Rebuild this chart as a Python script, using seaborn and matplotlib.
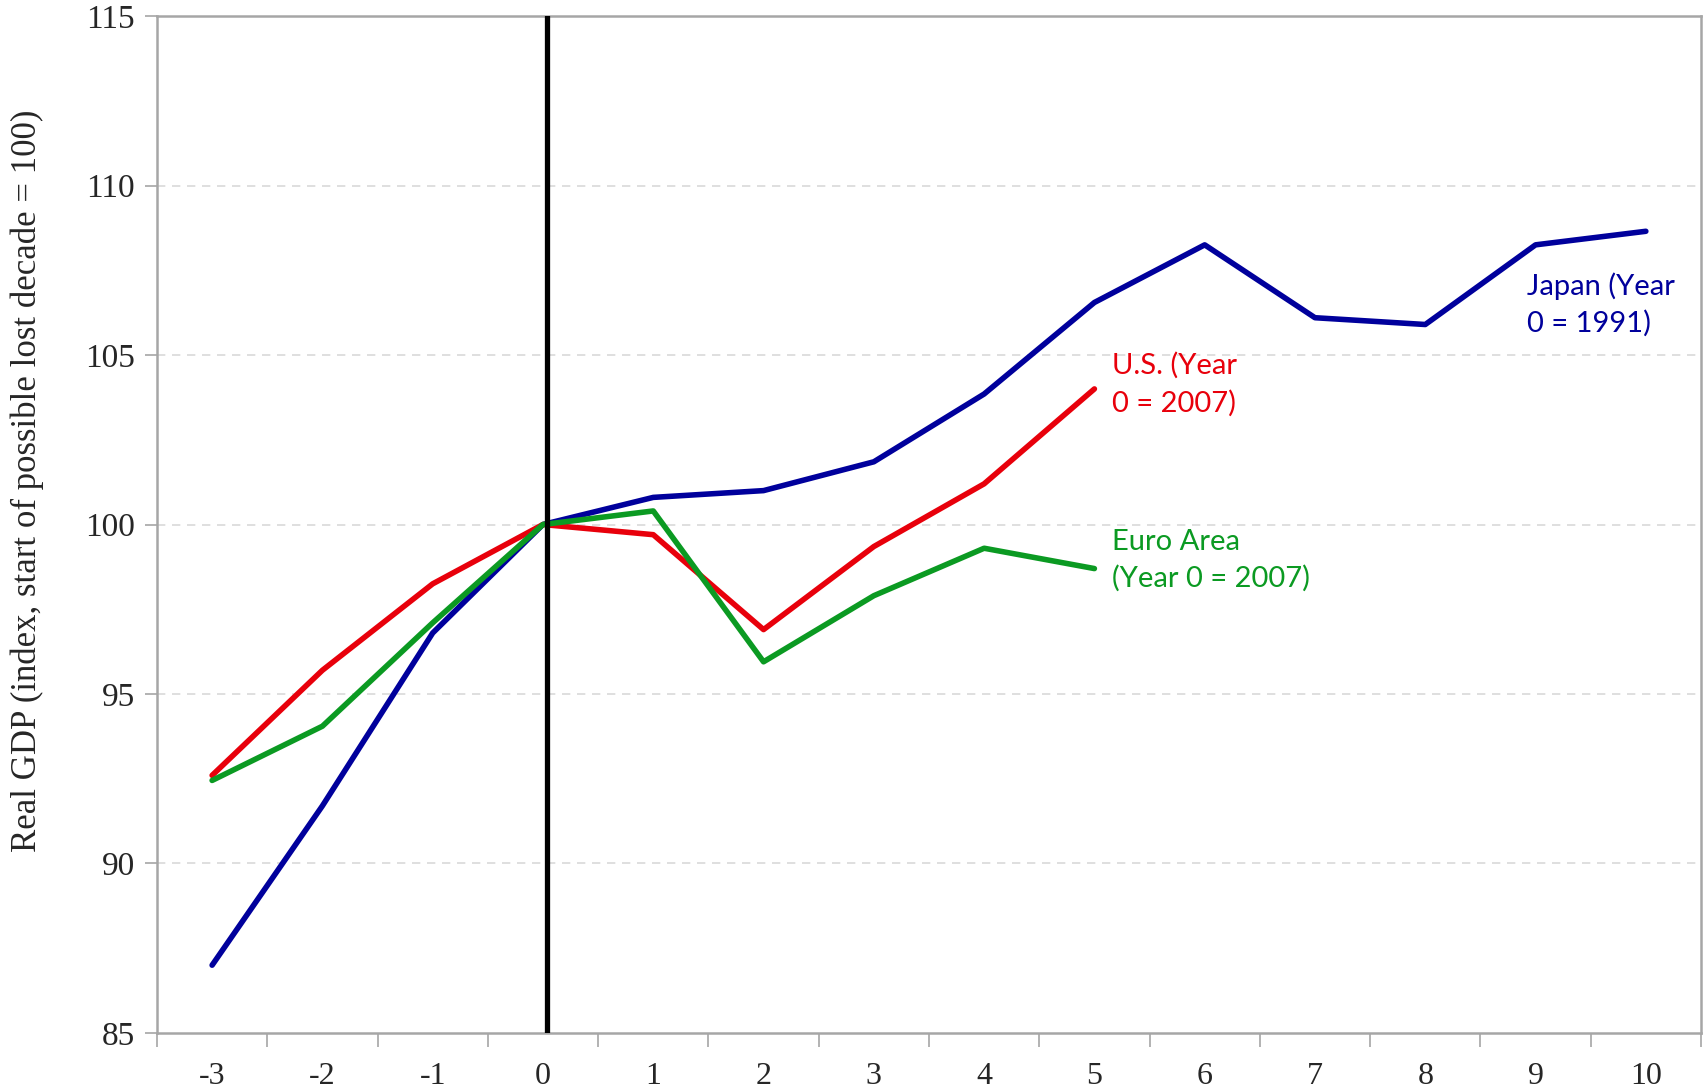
import matplotlib
matplotlib.use("Agg")
import matplotlib.pyplot as plt
import seaborn as sns
import pandas as pd
import numpy as np

# Years relative to the start of each possible lost decade
years = [-3, -2, -1, 0, 1, 2, 3, 4, 5, 6, 7, 8, 9, 10]

japan = [87.0, 91.7, 96.8, 100.0, 100.8, 101.0, 101.85, 103.85, 106.55,
         108.25, 106.1, 105.9, 108.25, 108.65]
us = [92.6, 95.7, 98.25, 100.0, 99.7, 96.9, 99.35, 101.2, 104.0]
euro = [92.45, 94.05, 97.1, 100.0, 100.4, 95.95, 97.9, 99.3, 98.7]

series_names = ["Japan", "U.S.", "Euro Area"]
series_labels = ["Japan (Year\n0 = 1991)", "U.S. (Year\n0 = 2007)",
                 "Euro Area\n(Year 0 = 2007)"]
colors = {"Japan": "#00009C", "U.S.": "#E8000B", "Euro Area": "#0B9A22"}

frames = []
for name, vals in zip(series_names, [japan, us, euro]):
    frames.append(pd.DataFrame({"year": years[:len(vals)], "gdp": vals,
                                "series": name}))
df = pd.concat(frames, ignore_index=True)

sns.set_style("white")
fig = plt.figure(figsize=(17.08, 10.90), dpi=100)
ax = fig.add_axes([0.0919, 0.0523, 0.9040, 0.9330])

sns.lineplot(data=df, x="year", y="gdp", hue="series", palette=colors,
             hue_order=series_names, linewidth=4.0, ax=ax, legend=False,
             solid_capstyle="round", sort=False)

# Vertical marker at year 0
ax.axvline(0.04, color="black", linewidth=3.8, zorder=5)

ax.set_xlim(-3.5, 10.5)
ax.set_ylim(85, 115)

# Integer labels without marks, marks at category boundaries
ax.set_xticks(years)
ax.set_xticklabels([str(y) for y in years])
ax.set_xticks(np.arange(-3.5, 10.6, 1.0), minor=True)
ax.tick_params(axis="x", which="major", length=0, pad=21, labelsize=23)
ax.tick_params(axis="x", which="minor", length=10, width=1.2,
               color="#A6A6A6", direction="out", bottom=True)

ax.set_yticks(np.arange(85, 116, 5))
ax.tick_params(axis="y", which="major", length=9, width=1.2,
               color="#A6A6A6", direction="out", pad=7, labelsize=24,
               left=True)

for lab in ax.get_xticklabels() + ax.get_yticklabels():
    lab.set_fontfamily("Liberation Serif")

ax.set_xlabel("")
ax.set_ylabel("Real GDP (index, start of possible lost decade = 100)",
              fontfamily="Liberation Serif", fontsize=25)
ax.yaxis.set_label_coords(-0.073, 0.543)

# Dashed horizontal gridlines inside the plot
for yv in [90, 95, 100, 105, 110]:
    ax.axhline(yv, color="#D9D9D9", linewidth=1.2, linestyle=(0, (5, 4)),
               zorder=0)

for side in ["left", "right", "top", "bottom"]:
    ax.spines[side].set_visible(True)
    ax.spines[side].set_color("#A6A6A6")
    ax.spines[side].set_linewidth(1.8)

# Series labels next to the line ends
label_pos = {"Japan": (8.92, 107.45), "U.S.": (5.16, 105.08),
             "Euro Area": (5.16, 99.88)}
for name, text in zip(series_names, series_labels):
    x, y = label_pos[name]
    ax.text(x, y, text, color=colors[name], fontsize=21, fontfamily="Lato",
            ha="left", va="top", linespacing=1.47)

fig.savefig("out.png", dpi=100)
